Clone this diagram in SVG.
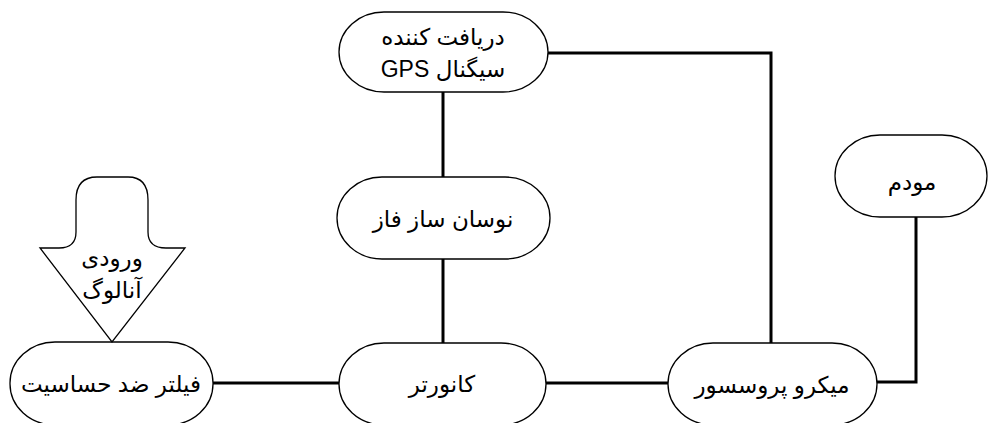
<svg xmlns="http://www.w3.org/2000/svg" width="989" height="423" viewBox="0 0 989 423">
  <style>
    .node { fill: #ffffff; stroke: #000000; stroke-width: 1.3; }
    .wire { fill: none; stroke: #000000; stroke-width: 3; stroke-linejoin: miter; }
    .lbl { font-family: "Liberation Sans", "DejaVu Sans", sans-serif; font-size: 23px; fill: #000000; text-anchor: middle; }
  </style>
  <rect width="989" height="423" fill="#ffffff"/>

  <g id="connectors">
    <!-- GPS receiver to phase oscillator -->
    <line class="wire" x1="443" y1="92" x2="443" y2="177"/>
    <!-- phase oscillator to converter -->
    <line class="wire" x1="443" y1="259" x2="443" y2="343"/>
    <!-- filter to converter -->
    <line class="wire" x1="213" y1="383" x2="339" y2="383"/>
    <!-- converter to microprocessor -->
    <line class="wire" x1="546" y1="383" x2="668" y2="383"/>
    <!-- GPS receiver to microprocessor -->
    <polyline class="wire" points="548,53 771,53 771,343"/>
    <!-- microprocessor to modem -->
    <polyline class="wire" points="877,382 916,382 916,217"/>
  </g>

  <g id="gps">
    <rect class="node" x="339" y="12" width="209" height="80" rx="45" ry="40"/>
    <text class="lbl" x="443" y="45" direction="rtl">دریافت کننده</text>
    <text class="lbl" x="443" y="77" direction="rtl">سیگنال GPS</text>
  </g>

  <g id="oscillator">
    <rect class="node" x="337" y="177" width="213" height="82" rx="45" ry="41"/>
    <text class="lbl" x="443" y="227" direction="rtl">نوسان ساز فاز</text>
  </g>

  <g id="converter">
    <rect class="node" x="339" y="343" width="207" height="82" rx="45" ry="41"/>
    <text class="lbl" x="442" y="392" direction="rtl">کانورتر</text>
  </g>

  <g id="filter">
    <rect class="node" x="10" y="342" width="203" height="83" rx="45" ry="41"/>
    <text class="lbl" x="111" y="392" direction="rtl">فیلتر ضد حساسیت</text>
  </g>

  <g id="microprocessor">
    <rect class="node" x="668" y="343" width="209" height="82" rx="45" ry="41"/>
    <text class="lbl" x="772" y="393" direction="rtl">میکرو پروسسور</text>
  </g>

  <g id="modem">
    <rect class="node" x="835" y="135" width="152" height="82" rx="45" ry="41"/>
    <text class="lbl" x="912" y="190" direction="rtl">مودم</text>
  </g>

  <g id="analog-input">
    <path class="node" d="M97,177 L128,177 Q148,177 148,200 L148,232 Q148,248 166,248 L185,248 L112,342 L40,248 L59,248 Q76,248 76,232 L76,200 Q76,177 97,177 Z"/>
    <text class="lbl" x="112" y="266" direction="rtl">ورودی</text>
    <text class="lbl" x="112" y="298" direction="rtl">آنالوگ</text>
  </g>
</svg>
